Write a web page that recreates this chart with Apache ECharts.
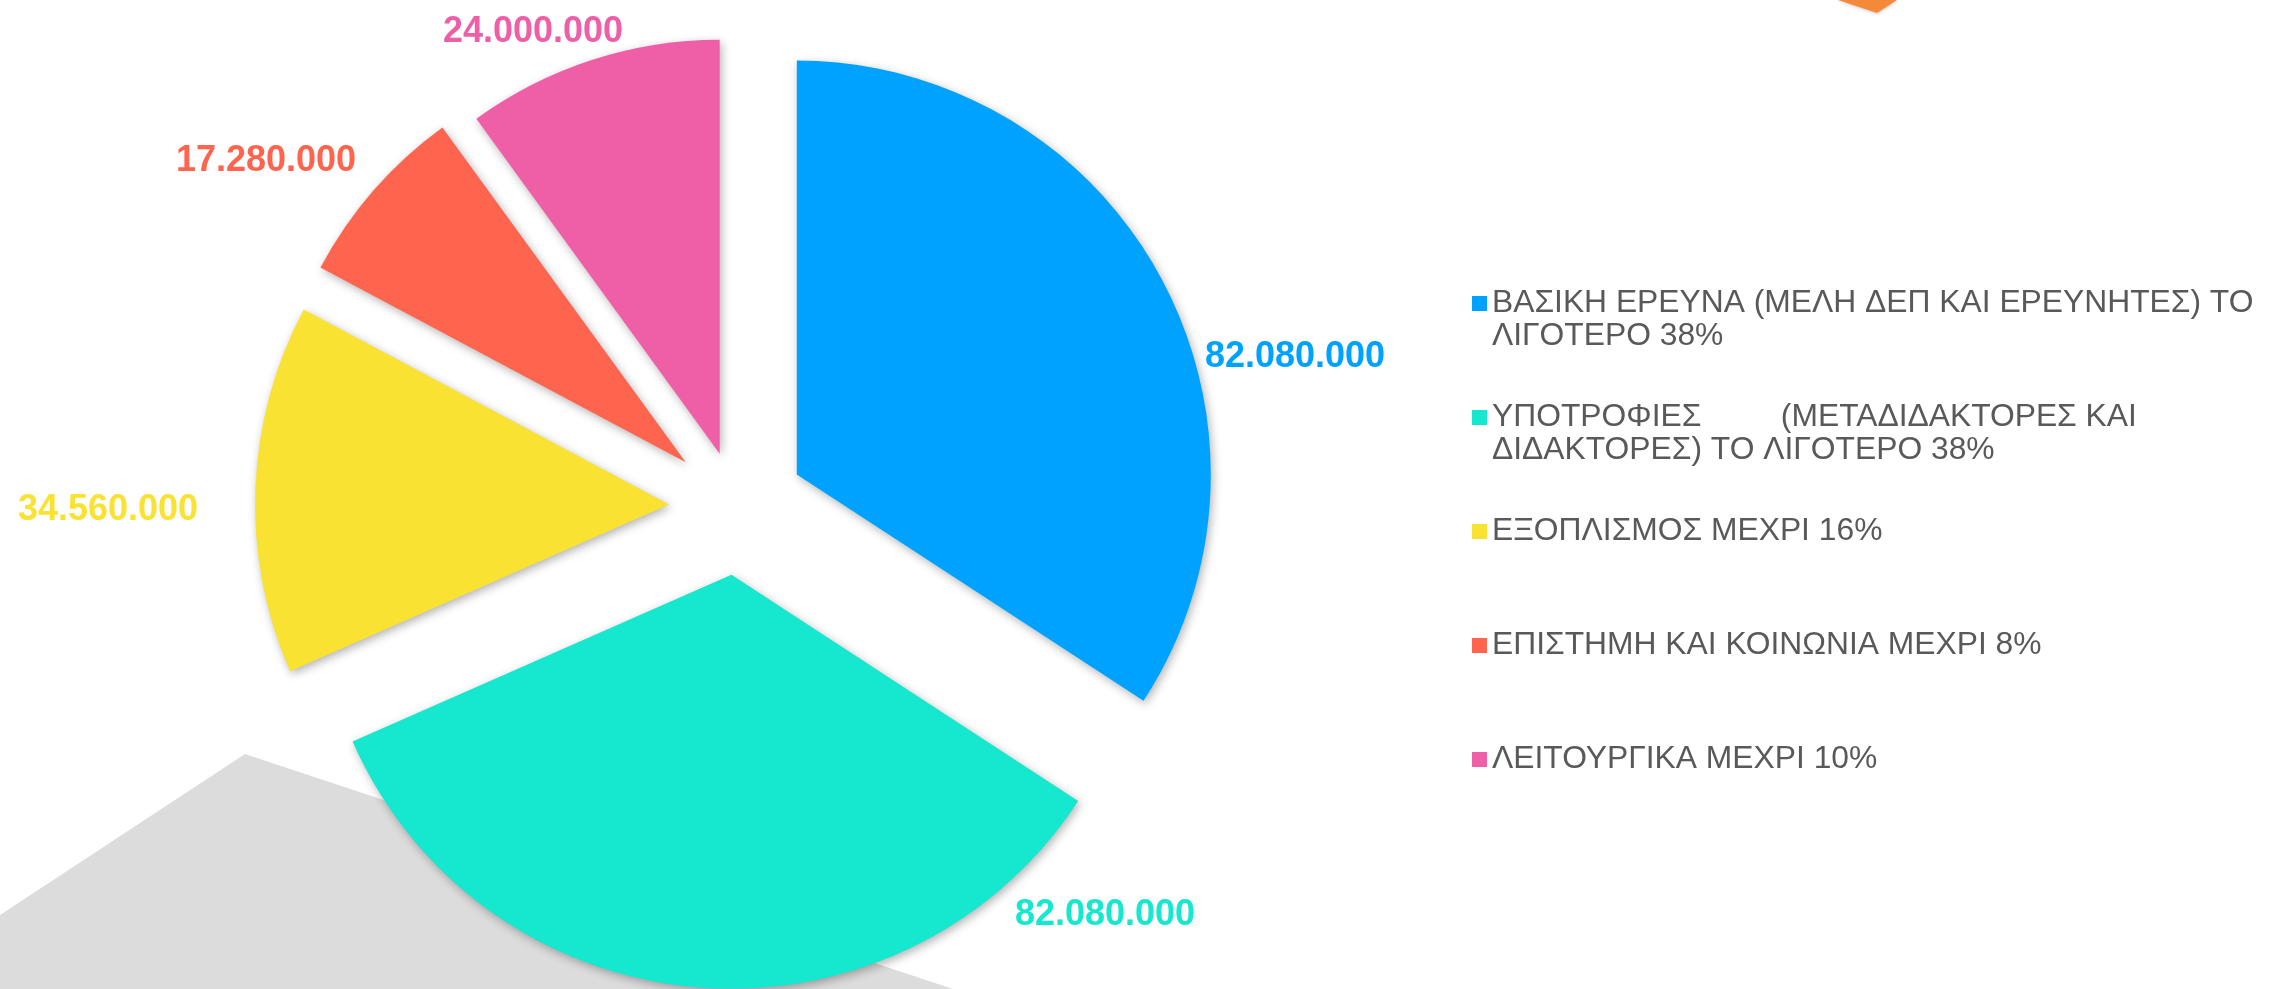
<!DOCTYPE html>
<html><head><meta charset="utf-8">
<script src="https://cdn.jsdelivr.net/npm/echarts@6/dist/echarts.min.js"></script>
<style>html,body{margin:0;padding:0;background:#fff;} #c{width:2277px;height:989px;}</style>
</head><body><div id="c"></div>
<script>
const categories = [
  'ΒΑΣΙΚΗ ΕΡΕΥΝΑ (ΜΕΛΗ ΔΕΠ ΚΑΙ ΕΡΕΥΝΗΤΕΣ) ΤΟ\nΛΙΓΟΤΕΡΟ 38%',
  'ΥΠΟΤΡΟΦΙΕΣ         (ΜΕΤΑΔΙΔΑΚΤΟΡΕΣ ΚΑΙ\nΔΙΔΑΚΤΟΡΕΣ) ΤΟ ΛΙΓΟΤΕΡΟ 38%',
  'ΕΞΟΠΛΙΣΜΟΣ ΜΕΧΡΙ 16%',
  'ΕΠΙΣΤΗΜΗ ΚΑΙ ΚΟΙΝΩΝΙΑ ΜΕΧΡΙ 8%',
  'ΛΕΙΤΟΥΡΓΙΚΑ ΜΕΧΡΙ 10%'
];
const values = [82080000, 82080000, 34560000, 17280000, 24000000];
const colors = ['#00A2FF', '#16E7CF', '#FAE232', '#FF644E', '#EF5FA7'];

// layout (not data)
const cx = 737, cy = 507, R = 414;
const OFF = 68, OFF_SMALL = 56, SMALL_IDX = 4;
const labelAngles = [74.67, 137.74, 270, 306.54, 336.89];
const labelDist = [578.6, 547.2, 629, 586.2, 519.7];
const LABEL_DY = 3;

function fmt(v) { return String(v).replace(/\B(?=(\d{3})+(?!\d))/g, '.'); }
const total = values.reduce((a, b) => a + b, 0);
function midAngle(i) {
  let s = 0;
  for (let k = 0; k < i; k++) s += values[k];
  return (s + values[i] / 2) / total * 2 * Math.PI;
}
const shadow = {shadowBlur: 10, shadowColor: 'rgba(0,0,0,0.3)', shadowOffsetX: 2, shadowOffsetY: 3};
const noShadow = {shadowBlur: 0, shadowColor: 'rgba(0,0,0,0)', shadowOffsetX: 0, shadowOffsetY: 0};

const chart = echarts.init(document.getElementById('c'), null, {renderer: 'canvas'});
chart.setOption({
  backgroundColor: '#ffffff',
  animation: false,
  graphic: [
    {type: 'polygon', z: -10, shape: {points: [[245, 754], [0, 915], [0, 989], [953, 989]]}, style: {fill: '#DCDCDC'}},
    {type: 'polygon', z: -10, shape: {points: [[1838, 0], [1877, 13], [1897, 0]]}, style: {fill: '#F4893A', shadowBlur: 4, shadowColor: 'rgba(0,0,0,0.3)'}}
  ],
  legend: {
    orient: 'vertical', left: 1467, top: 249,
    itemWidth: 15, itemHeight: 15, itemGap: 15, icon: 'rect',
    selectedMode: false,
    textStyle: {fontSize: 31.8, color: '#595959', fontFamily: 'Liberation Sans, Arial, sans-serif', lineHeight: 33},
    formatter: n => (n.indexOf('\n') >= 0 ? '\n' + n : n),
    data: categories.map((n, i) => ({
      name: n,
      itemStyle: Object.assign({color: colors[i]}, noShadow),
      textStyle: {padding: n.indexOf('\n') >= 0 ? [0, 0, 0, 0] : [33, 0, 33, 0]}
    }))
  },
  series: [{
    type: 'pie',
    center: [cx, cy],
    radius: R,
    startAngle: 90,
    clockwise: true,
    selectedMode: 'multiple',
    selectedOffset: OFF,
    avoidLabelOverlap: false,
    itemStyle: shadow,
    emphasis: {disabled: true},
    label: {
      show: true, position: 'outside',
      fontSize: 36, fontWeight: 'bold', fontFamily: 'Liberation Sans, Arial, sans-serif',
      formatter: p => fmt(p.value)
    },
    labelLine: {show: false, length: 0, length2: 0},
    labelLayout: function (p) {
      const i = p.dataIndex;
      const a = labelAngles[i] * Math.PI / 180;
      const tx = cx + labelDist[i] * Math.sin(a), ty = cy - labelDist[i] * Math.cos(a) + LABEL_DY;
      const m = midAngle(i);
      const ox = OFF * Math.sin(m), oy = -OFF * Math.cos(m);
      const r = p.labelRect;
      return {dx: tx - (r.x + r.width / 2) - ox, dy: ty - (r.y + r.height / 2) - oy};
    },
    data: categories.map((n, i) => ({
      name: n, value: values[i], selected: true,
      itemStyle: i === SMALL_IDX ? Object.assign({color: 'rgba(0,0,0,0)'}, noShadow) : {color: colors[i]},
      label: {color: colors[i]}
    }))
  }, {
    type: 'pie',
    center: [cx, cy],
    radius: R,
    startAngle: 90,
    clockwise: true,
    silent: true,
    selectedMode: 'multiple',
    selectedOffset: OFF_SMALL,
    itemStyle: shadow,
    emphasis: {disabled: true},
    label: {show: false},
    labelLine: {show: false},
    data: categories.map((n, i) => ({
      name: n, value: values[i], selected: i === SMALL_IDX,
      itemStyle: i === SMALL_IDX ? {color: colors[i]} : Object.assign({color: 'rgba(0,0,0,0)'}, noShadow)
    }))
  }]
});
</script></body></html>
